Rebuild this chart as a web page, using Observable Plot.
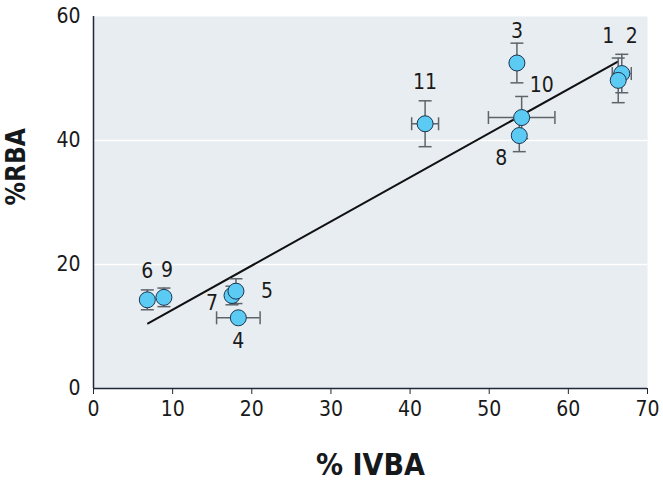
<!DOCTYPE html>
<html>
<head>
<meta charset="utf-8">
<script src="https://cdn.jsdelivr.net/npm/d3@7"></script>
<script src="https://cdn.jsdelivr.net/npm/@observablehq/plot@0.6"></script>
<style>
  html, body { margin: 0; padding: 0; background: #fff; }
  #chart svg { display: block; }
</style>
</head>
<body>
<div id="chart"></div>
<script>
// ---- data ----
const ids   = ["1", "2", "3", "4", "5", "6", "7", "8", "9", "10", "11"];
const ivba  = [66.3, 66.75, 53.5, 18.3, 18.0, 6.8, 17.5, 53.8, 8.9, 54.1, 41.9];   // % IVBA
const rba   = [49.7, 50.8, 52.5, 11.4, 15.7, 14.3, 15.0, 40.8, 14.7, 43.7, 42.7]; // % RBA
const rbaErr  = [3.6, 3.1, 3.2, 0, 2.0, 1.6, 1.5, 2.6, 1.5, 3.4, 3.7];
const ivbaErr = [0, 1.2, 0, 2.75, 0, 0, 0, 0, 0, 4.2, 1.7];
const fitX = [6.9, 66.2];
const fitY = [10.5, 52.7];
const xTicks = [0, 10, 20, 30, 40, 50, 60, 70];
const yTicks = [0, 20, 40, 60];
// label offsets (pixels, layout only)
const labelDx = [-10, 10, 0, 0, 31, 0, -20, -18, 3, 20, 0];
const labelDy = [-44, -37, -32, 23, 0, -29, 8, 23, -27, -32, -41];

const pts = ids.map((id, i) => ({id, x: ivba[i], y: rba[i], ey: rbaErr[i], ex: ivbaErr[i], ldx: labelDx[i], ldy: labelDy[i]}));
const vErr = pts.filter(d => d.ey > 0);
const hErr = pts.filter(d => d.ex > 0);
const fit = fitX.map((x, i) => ({x, y: fitY[i]}));

const FONT = '"Liberation Sans Narrow", "DejaVu Sans Condensed", "Arial Narrow", sans-serif';
const ERR = "#5d646b";

const hCap = {draw(ctx, size) { const w = Math.sqrt(size / Math.PI); ctx.moveTo(-w, 0); ctx.lineTo(w, 0); }};
const vCap = {draw(ctx, size) { const w = Math.sqrt(size / Math.PI); ctx.moveTo(0, -w); ctx.lineTo(0, w); }};

const chart = Plot.plot({
  width: 663,
  height: 482,
  marginLeft: 93,
  marginRight: 16,
  marginTop: 16,
  marginBottom: 94,
  style: {fontFamily: FONT, fontSize: "20px", color: "#1a1a1a", background: "#fff"},
  x: {domain: [0, 70]},
  y: {domain: [0, 60]},
  marks: [
    Plot.frame({fill: "#e8edf1", stroke: null}),
    Plot.gridY([20, 40], {stroke: "#fff", strokeOpacity: 1, strokeWidth: 1.5}),
    Plot.axisX(xTicks, {tickSize: 6, tickPadding: 7, stroke: "#1f2a36", fontSize: 21, label: null}),
    Plot.axisY(yTicks, {tickSize: 0, tickPadding: 13, fontSize: 21, label: null}),
    Plot.ruleX([0], {stroke: "#1f2a36", strokeWidth: 1.5}),
    Plot.ruleY([0], {stroke: "#1f2a36", strokeWidth: 1.5}),
    Plot.line(fit, {x: "x", y: "y", stroke: "#111", strokeWidth: 2}),
    // vertical error bars
    Plot.ruleX(vErr, {x: "x", y1: d => d.y - d.ey, y2: d => d.y + d.ey, stroke: ERR, strokeWidth: 1.5}),
    Plot.dot(vErr, {x: "x", y: d => d.y + d.ey, symbol: hCap, r: 6.5, fill: "none", stroke: ERR, strokeWidth: 1.5}),
    Plot.dot(vErr, {x: "x", y: d => d.y - d.ey, symbol: hCap, r: 6.5, fill: "none", stroke: ERR, strokeWidth: 1.5}),
    // horizontal error bars
    Plot.ruleY(hErr, {y: "y", x1: d => d.x - d.ex, x2: d => d.x + d.ex, stroke: ERR, strokeWidth: 1.5}),
    Plot.dot(hErr, {y: "y", x: d => d.x + d.ex, symbol: vCap, r: 6.5, fill: "none", stroke: ERR, strokeWidth: 1.5}),
    Plot.dot(hErr, {y: "y", x: d => d.x - d.ex, symbol: vCap, r: 6.5, fill: "none", stroke: ERR, strokeWidth: 1.5}),
    Plot.dot(pts.slice().reverse(), {x: "x", y: "y", r: 8, fill: "#5ccbf3", stroke: "#1d3550", strokeWidth: 1}),
    ...pts.map(d => Plot.text([d], {x: "x", y: "y", text: "id", dx: d.ldx, dy: d.ldy, fontSize: 21, fill: "#1a1a1a"})),
    Plot.text(["% IVBA"], {frameAnchor: "bottom", dy: 77, fontSize: 30, fontWeight: "bold", fill: "#16191c", lineAnchor: "middle"}),
    Plot.text(["%RBA"], {frameAnchor: "left", dx: -77, dy: 3, rotate: -90, fontSize: 26, fontWeight: "bold", fill: "#16191c"})
  ]
});
document.getElementById("chart").appendChild(chart);
</script>
</body>
</html>
